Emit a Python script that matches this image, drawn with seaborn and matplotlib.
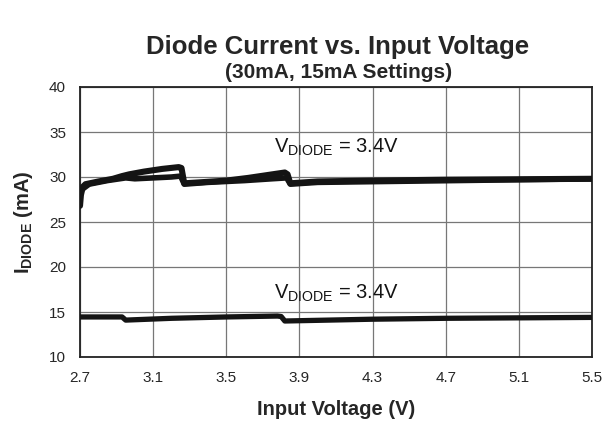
import matplotlib
matplotlib.use("Agg")
import matplotlib.pyplot as plt
import seaborn as sns
import pandas as pd

# ---- data ----
v_30_a = [2.700, 2.705, 2.715, 2.73, 2.80, 2.88, 2.93, 2.97, 3.05, 3.15, 3.24, 3.255, 3.27,
          3.35, 3.50, 3.62, 3.72, 3.82, 3.835, 3.85, 4.0, 4.3, 4.7, 5.1, 5.5]
i_30_a = [26.8, 28.0, 28.9, 29.2, 29.5, 29.8, 30.1, 30.3, 30.6, 30.9, 31.1, 31.0, 29.3,
          29.4, 29.6, 29.9, 30.2, 30.5, 30.3, 29.3, 29.5, 29.6, 29.7, 29.75, 29.8]
v_30_b = [2.70, 2.71, 2.75, 2.85, 2.95, 3.0, 3.1, 3.2, 3.25, 3.27, 3.4, 3.6, 3.75, 3.83,
          3.85, 4.0, 5.5]
i_30_b = [27.8, 28.6, 29.2, 29.6, 29.9, 29.8, 29.9, 30.0, 30.1, 29.2, 29.4, 29.6, 29.8, 29.9,
          29.2, 29.4, 29.8]
v_15 = [2.70, 2.93, 2.95, 3.2, 3.5, 3.78, 3.80, 3.82, 4.3, 4.7, 5.1, 5.5]
i_15 = [14.45, 14.45, 14.1, 14.3, 14.45, 14.55, 14.5, 14.0, 14.2, 14.3, 14.35, 14.4]

x_ticks = [2.7, 3.1, 3.5, 3.9, 4.3, 4.7, 5.1, 5.5]
y_ticks = [10, 15, 20, 25, 30, 35, 40]
annot_text = r"V$_{\mathregular{DIODE}}$ = 3.4V"
annot_pos = [(3.76, 33.3), (3.76, 17.1)]

sns.set_style("white")
plt.rcParams["font.family"] = ["Liberation Sans", "DejaVu Sans"]
plt.rcParams["mathtext.fontset"] = "custom"
plt.rcParams["mathtext.rm"] = "Liberation Sans"
plt.rcParams["mathtext.bf"] = "Liberation Sans:bold"
plt.rcParams["mathtext.it"] = "Liberation Sans:italic"

fig = plt.figure(figsize=(6.04, 4.38), dpi=100)
ax = fig.add_axes([80 / 604, 81 / 438, 512 / 604, 270 / 438])

df_a = pd.DataFrame({"v": v_30_a, "i": i_30_a})
df_b = pd.DataFrame({"v": v_30_b, "i": i_30_b})
df_c = pd.DataFrame({"v": v_15, "i": i_15})
for d, lw in [(df_a, 4.4), (df_b, 4.0), (df_c, 3.8)]:
    sns.lineplot(data=d, x="v", y="i", ax=ax, sort=False, estimator=None,
                 color="#141414", linewidth=lw, zorder=3)

ax.set_xlim(2.7, 5.5)
ax.set_ylim(10, 40)
ax.set_xticks(x_ticks)
ax.set_yticks(y_ticks)
ax.set_xticklabels([f"{t:.1f}" for t in x_ticks], fontsize=11)
ax.set_yticklabels([str(t) for t in y_ticks], fontsize=11)
ax.tick_params(axis="x", length=0, pad=10)
ax.tick_params(axis="y", length=0, pad=10)
ax.grid(True, color="#777777", linewidth=0.9)
for s in ax.spines.values():
    s.set_color("#222222")
    s.set_linewidth(1.3)

ax.set_xlabel("Input Voltage (V)", fontsize=14.5, fontweight="bold", labelpad=11)
ax.set_ylabel(r"$\mathbf{I_{DIODE}}$ (mA)", fontsize=14.5, fontweight="bold", labelpad=10)

for (x, y) in annot_pos:
    ax.text(x, y, annot_text, fontsize=14.5, ha="left", va="center", color="#141414", zorder=4)

fig.text(338 / 604, 1 - 47 / 438, "Diode Current vs. Input Voltage",
         ha="center", va="center", fontsize=18.5, fontweight="bold")
fig.text(339 / 604, 1 - 72 / 438, "(30mA, 15mA Settings)", ha="center", va="center",
         fontsize=15, fontweight="bold")

fig.savefig("out.png", dpi=100, facecolor="white")
